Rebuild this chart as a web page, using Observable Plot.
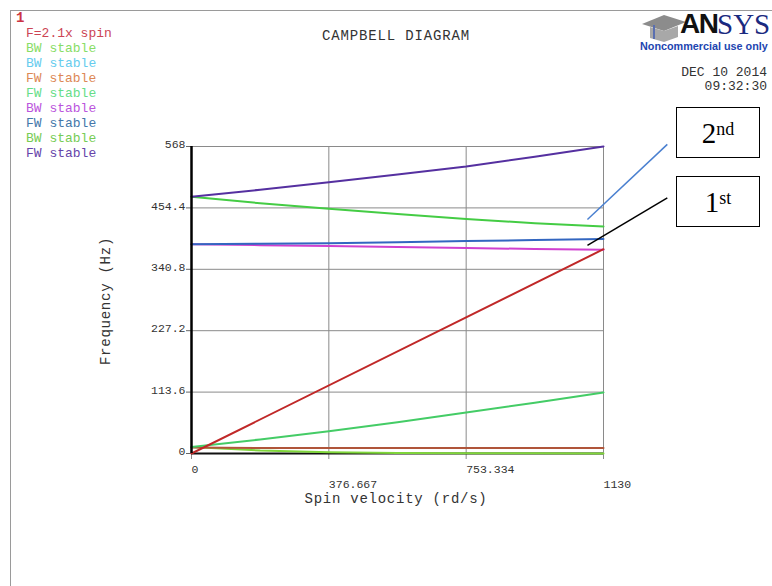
<!DOCTYPE html>
<html><head><meta charset="utf-8">
<script src="https://cdn.jsdelivr.net/npm/d3@7"></script>
<script src="https://cdn.jsdelivr.net/npm/@observablehq/plot@0.6"></script>
<style>
html,body{margin:0;padding:0;background:#fff;width:772px;height:586px;overflow:hidden;}
#wrap{position:relative;width:772px;height:586px;overflow:hidden;background:#fff;}
#chart{position:absolute;left:0;top:0;}
.t{position:absolute;font-family:"Liberation Mono",monospace;white-space:nowrap;line-height:1;transform:translateY(-50%);}
#border{position:absolute;left:10px;top:10px;width:900px;height:700px;border-left:1px solid #9a9a9a;border-top:1px solid #9a9a9a;}
.box{position:absolute;border:1.5px solid #000;background:#fff;font-family:"Liberation Serif","Times New Roman",serif;font-size:29px;color:#000;display:flex;align-items:center;justify-content:center;box-sizing:border-box;padding-top:2px;}
.box sup{font-size:18px;position:relative;top:-4px;}
</style></head>
<body><div id="wrap">
<div id="border"></div>
<div id="chart"></div>
</div>
<script>
// ---- data ----
const xTicks = [0, 376.667, 753.334, 1130];
const xTickLabels = ["0", "376.667", "753.334", "1130"];
const yTicks = [0, 113.6, 227.2, 340.8, 454.4, 568];
const yTickLabels = ["0", "113.6", "227.2", "340.8", "454.4", "568"];

const spinPts = [0, 188.33, 376.667, 565, 753.334, 941.67, 1130];
const fwPurple   = [475, 488, 502, 516, 531, 549, 568];
const bwGreenHi  = [475, 463, 453, 443, 434, 426, 420];
const fwBlue     = [387, 388, 389, 391, 393, 395, 397];
const bwMagenta  = [387, 385.5, 384, 382, 380, 378.5, 377];
const fwGreenLo  = [12, 26, 41, 58, 76, 94, 113];
const fwOrange   = [11, 10, 10, 10, 10, 10, 10];
const bwLightGrn = [12, 5.5, 2.2, 1, 0.5, 0.3, 0.2];

const excitationSpin = [0, 1130];
const excitationFreq = [0, 378];

const legendLabels = ["F=2.1x spin", "BW stable", "BW stable", "FW stable", "FW stable", "BW stable", "FW stable", "BW stable", "FW stable"];
const legendColors = ["#cc4455", "#88dd66", "#66ccee", "#dd8855", "#66dd88", "#bb55dd", "#4477aa", "#77cc55", "#6644aa"];

const annoLabels = ["2nd", "1st"];
const annoFrom = [[1086, 433], [1086, 385]];
const annoTo = [[1305, 572], [1305, 473]];
const annoColors = ["#4a80d0", "#000000"];

// ---- build ----
const curves = [
  {v: bwLightGrn, c: "#7fd63a"},
  {v: fwOrange,   c: "#b0553a"},
  {v: fwGreenLo,  c: "#44cc66"},
  {v: bwMagenta,  c: "#d040d0"},
  {v: fwBlue,     c: "#3366c0"},
  {v: bwGreenHi,  c: "#44cc44"},
  {v: fwPurple,   c: "#5530a0"}
];
const rows = v => spinPts.map((s, i) => ({spin: s, freq: v[i]}));
const exRows = excitationSpin.map((s, i) => ({spin: s, freq: excitationFreq[i]}));
const annos = annoLabels.map((l, i) => ({x1: annoFrom[i][0], y1: annoFrom[i][1], x2: annoTo[i][0], y2: annoTo[i][1], c: annoColors[i]}));

const upper = xTicks.filter((d, i) => i % 2 === 0);
const lower = xTicks.filter((d, i) => i % 2 === 1);
const xl = d => xTickLabels[xTicks.indexOf(d)];
const yl = d => yTickLabels[yTicks.indexOf(d)];

const chart = Plot.plot({
  width: 772, height: 586,
  marginLeft: 191, marginRight: 169, marginTop: 146, marginBottom: 133,
  x: {domain: [0, 1130], axis: null, label: null},
  y: {domain: [0, 568], axis: null, label: null},
  style: {fontFamily: "Liberation Mono, monospace", fontSize: "11.5px", color: "#333", background: "transparent", overflow: "visible"},
  marks: [
    Plot.gridX({ticks: xTicks.slice(1), stroke: "#8a8a8a", strokeOpacity: 1}),
    Plot.gridY({ticks: yTicks.slice(1), stroke: "#8a8a8a", strokeOpacity: 1}),
    Plot.axisX({ticks: xTicks, tickSize: 6, tickFormat: () => "", stroke: "#8a8a8a", label: null}),
    Plot.axisY({ticks: yTicks, tickSize: 5, tickFormat: () => "", stroke: "#666", label: null}),
    Plot.text(upper, {x: d => d, frameAnchor: "bottom", dy: 19, textAnchor: "start", text: xl, fill: "#333"}),
    Plot.text(lower, {x: d => d, frameAnchor: "bottom", dy: 34, textAnchor: "start", text: xl, fill: "#333"}),
    Plot.text(yTicks, {y: d => d, frameAnchor: "left", dx: -6, dy: -2, textAnchor: "end", text: yl, fill: "#333"}),
    Plot.ruleY([0], {stroke: "#111", strokeWidth: 2}),
    ...curves.map(c => Plot.line(rows(c.v), {x: "spin", y: "freq", stroke: c.c, strokeWidth: 2})),
    Plot.line(exRows, {x: "spin", y: "freq", stroke: "#c02828", strokeWidth: 2}),
    Plot.ruleX([0], {stroke: "#000", strokeWidth: 2.5}),
    Plot.link(annos, {x1: "x1", y1: "y1", x2: "x2", y2: "y2", stroke: "c", strokeWidth: 1.5})
  ]
});
document.getElementById("chart").appendChild(chart);

// ---- text overlays ----
const wrap = document.getElementById("wrap");
function addText(txt, opts) {
  const el = document.createElement("div");
  el.className = "t";
  el.textContent = txt;
  Object.assign(el.style, opts);
  wrap.appendChild(el);
  return el;
}
addText("1", {left: "16px", top: "18px", color: "#cc3344", fontSize: "14px", fontWeight: "bold"});
legendLabels.forEach((l, i) => addText(l, {left: "26px", top: (33 + i * 15) + "px", color: legendColors[i], fontSize: "13px"}));
addText("CAMPBELL DIAGRAM", {left: "396px", top: "36px", transform: "translate(-50%,-50%)", fontSize: "14px", letterSpacing: "0.85px", color: "#333"});
addText("DEC 10 2014", {right: "5px", top: "72px", fontSize: "13px", color: "#333"});
addText("09:32:30", {right: "5px", top: "86px", fontSize: "13px", color: "#333"});
addText("Spin velocity (rd/s)", {left: "396px", top: "499px", transform: "translate(-50%,-50%)", fontSize: "14px", letterSpacing: "0.75px", color: "#333"});
addText("Frequency (Hz)", {left: "106px", top: "301px", transform: "translate(-50%,-50%) rotate(-90deg)", fontSize: "14px", letterSpacing: "0.75px", color: "#333"});

// logo
const logo = document.createElement("div");
logo.style.cssText = "position:absolute;left:640px;top:12px;width:140px;height:40px;";
logo.innerHTML = '<svg width="44" height="30" style="position:absolute;left:2px;top:1px"><polygon points="0,11 22,2 44,9 22,18" fill="#8c8c8c"/><polygon points="8,14 8,25 22,29 36,24 36,13 22,18" fill="#a8a8a8"/><line x1="12" y1="12" x2="12" y2="26" stroke="#5a6fb0" stroke-width="2"/></svg>';
wrap.appendChild(logo);
addText("AN", {left: "680px", top: "24px", fontFamily: "Liberation Sans, Arial, sans-serif", fontWeight: "bold", fontSize: "28px", color: "#111", letterSpacing: "-1.5px"}); 
addText("SYS", {left: "717px", top: "24px", fontFamily: "Liberation Serif, serif", fontSize: "29px", color: "#1a2a80"});
addText("Noncommercial use only", {left: "640px", top: "46px", fontFamily: "Liberation Sans, Arial, sans-serif", fontWeight: "bold", fontSize: "10.8px", color: "#1d45b0"});

// annotation boxes
const boxTops = [107, 176];
annoLabels.forEach((l, i) => {
  const b = document.createElement("div");
  b.className = "box";
  b.style.left = "676px"; b.style.top = boxTops[i] + "px"; b.style.width = "84px"; b.style.height = "51px";
  b.innerHTML = l.slice(0, 1) + "<sup>" + l.slice(1) + "</sup>";
  wrap.appendChild(b);
});
</script>
</body></html>
